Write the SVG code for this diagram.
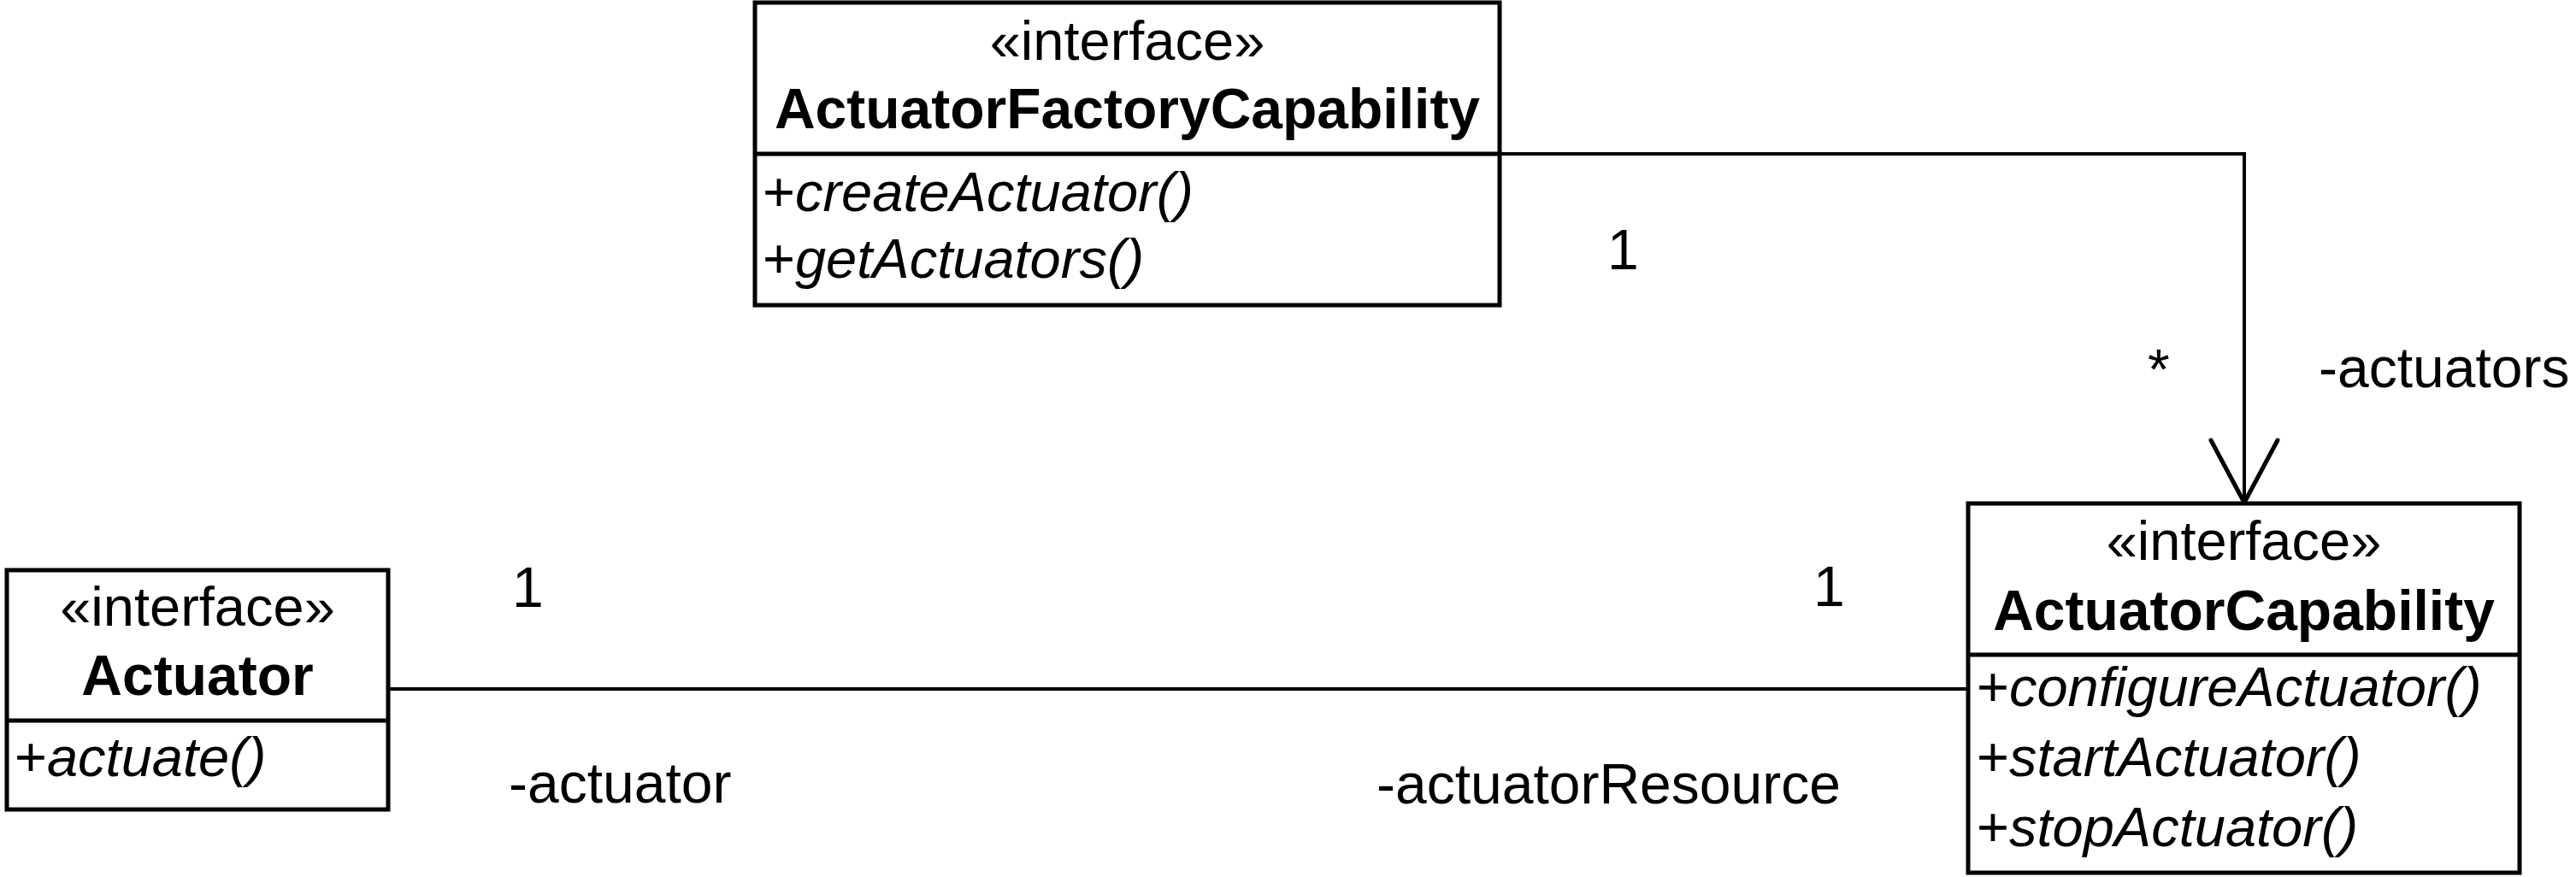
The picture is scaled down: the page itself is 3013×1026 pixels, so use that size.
<svg xmlns="http://www.w3.org/2000/svg" width="3013" height="1026" viewBox="0 0 3013 1026">
<style>
.box{fill:#fff;stroke:#000;stroke-width:5}
.div{stroke:#000;stroke-width:5}
.conn{fill:none;stroke:#000;stroke-width:4}
.arrow{fill:none;stroke:#000;stroke-width:5;stroke-linecap:round;stroke-linejoin:round}
text{font-family:"Liberation Sans",Arial,sans-serif;fill:#000}
.st{font-size:65px;text-anchor:middle}
.nm{font-size:66px;font-weight:bold;text-anchor:middle}
.op{font-size:65px;font-style:italic}
.op tspan.p{font-style:normal}
.lb{font-size:66px}
</style>
<rect width="3013" height="1026" fill="#fff"/>
<g id="connectors">
<path class="conn" d="M1754 180 H2625 V588"/>
<polyline class="arrow" points="2586,515 2625,588 2664,515"/>
<path class="conn" d="M454 806 H2302"/>
<text class="lb" x="1880" y="315">1</text>
<text class="lb" x="2512" y="455">*</text>
<text class="lb" x="2712" y="453">-actuators</text>
<text class="lb" x="599" y="710">1</text>
<text class="lb" x="595" y="939">-actuator</text>
<text class="lb" x="2121" y="709">1</text>
<text class="lb" x="1610" y="940">-actuatorResource</text>
</g>
<g id="ActuatorFactoryCapability">
<rect class="box" x="883" y="3" width="871" height="354"/>
<line class="div" x1="883" y1="180" x2="1754" y2="180"/>
<text class="st" x="1318.5" y="70">«interface»</text>
<text class="nm" x="1318.5" y="150">ActuatorFactoryCapability</text>
<text class="op" x="892" y="247"><tspan class="p">+</tspan>createActuator()</text>
<text class="op" x="892" y="325"><tspan class="p">+</tspan>getActuators()</text>
</g>
<g id="Actuator">
<rect class="box" x="8" y="667" width="446" height="280"/>
<line class="div" x1="8" y1="843" x2="454" y2="843"/>
<text class="st" x="231" y="732">«interface»</text>
<text class="nm" x="231" y="813">Actuator</text>
<text class="op" x="17" y="908"><tspan class="p">+</tspan>actuate()</text>
</g>
<g id="ActuatorCapability">
<rect class="box" x="2302" y="589" width="645" height="432"/>
<line class="div" x1="2302" y1="766" x2="2947" y2="766"/>
<text class="st" x="2624.5" y="655">«interface»</text>
<text class="nm" x="2624.5" y="737">ActuatorCapability</text>
<text class="op" x="2312" y="826"><tspan class="p">+</tspan>configureActuator()</text>
<text class="op" x="2312" y="908"><tspan class="p">+</tspan>startActuator()</text>
<text class="op" x="2312" y="990"><tspan class="p">+</tspan>stopActuator()</text>
</g>
</svg>
